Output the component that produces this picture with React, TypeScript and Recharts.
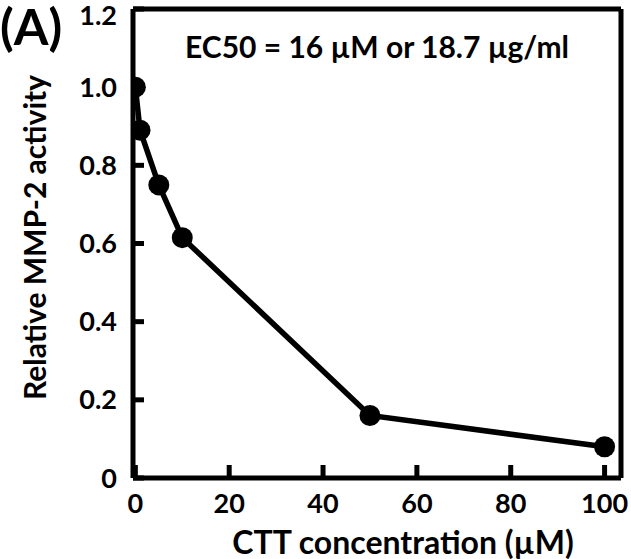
import React from "react";
import { LineChart, Line, XAxis, YAxis, ReferenceLine } from "recharts";

const concentrations = [0, 1, 5, 10, 50, 100];
const activity = [1.0, 0.89, 0.75, 0.615, 0.16, 0.08];
const xTicks = [0, 20, 40, 60, 80, 100];
const yTicks = [0, 0.2, 0.4, 0.6, 0.8, 1.0, 1.2];
const yTickLabels = ["0", "0.2", "0.4", "0.6", "0.8", "1.0", "1.2"];
const xDomain = [-0.5, 103.5];
const yDomain = [0, 1.2];

const data = concentrations.map((c, i) => ({ c, v: activity[i] }));

const FONT = "Lato, 'Open Sans', sans-serif";
const tickStyle = { fontFamily: FONT, fontWeight: 700, fontSize: 27, fill: "#000" };
const frameLine = { stroke: "#000", strokeWidth: 5 };

const yFmt = (v: number) => {
  const idx = yTicks.indexOf(v);
  return idx >= 0 ? yTickLabels[idx] : String(v);
};

const YLabel = (props: any) => {
  const vb = props.viewBox || { x: 0, y: 0, width: 0, height: 0 };
  const cx = vb.x + 35;
  const cy = vb.y + vb.height / 2 - 6;
  return (
    <text x={cx} y={cy} transform={`rotate(-90, ${cx}, ${cy})`} textAnchor="middle" dy="0.36em" fontFamily={FONT} fontWeight={700} fontSize={30} fill="#000">
      Relative MMP-2 activity
    </text>
  );
};

const XLabel = (props: any) => {
  const vb = props.viewBox || { x: 0, y: 0, width: 0, height: 0 };
  const cx = vb.x + vb.width / 2 + 26;
  return (
    <text x={cx} y={vb.y + 76} textAnchor="middle" fontFamily={FONT} fontWeight={700} fontSize={32} fill="#000">
      CTT concentration (µM)
    </text>
  );
};

const TopLabel = (props: any) => {
  const vb = props.viewBox || { x: 0, y: 0, width: 0, height: 0 };
  const cx = vb.x + (vb.width || 0) / 2;
  return (
    <text x={cx} y={vb.y + 49} textAnchor="middle" fontFamily={FONT} fontWeight={700} fontSize={30} fill="#000">
      EC50 = 16 µM or 18.7 µg/ml
    </text>
  );
};

export default function App() {
  return (
    <div style={{ position: "absolute", left: 0, top: 0, width: 631, height: 559, background: "#fff" }}>
      <LineChart width={631} height={559} data={data} margin={{ top: 9, right: 10, bottom: 0, left: 0 }}>
        <XAxis
          dataKey="c"
          type="number"
          domain={xDomain}
          ticks={xTicks}
          allowDataOverflow
          height={81}
          tickSize={-13}
          tickMargin={29}
          tick={tickStyle}
          tickLine={frameLine}
          axisLine={frameLine}
          label={<XLabel />}
        />
        <YAxis
          type="number"
          domain={yDomain}
          ticks={yTicks}
          allowDataOverflow
          width={133}
          tickSize={-11}
          tickMargin={27}
          tick={tickStyle}
          tickFormatter={yFmt}
          tickLine={frameLine}
          axisLine={frameLine}
          label={<YLabel />}
        />
        <ReferenceLine y={yDomain[1]} stroke="#000" strokeWidth={5} label={<TopLabel />} />
        <ReferenceLine x={xDomain[1]} stroke="#000" strokeWidth={5} />
        <Line
          dataKey="v"
          stroke="#000"
          strokeWidth={5.5}
          dot={{ r: 10.5, fill: "#000", stroke: "none" }}
          isAnimationActive={false}
        />
      </LineChart>
      <div
        style={{
          position: "absolute",
          left: 0,
          top: -4,
          fontFamily: FONT,
          fontWeight: 700,
          fontSize: 50,
          lineHeight: "60px",
          color: "#000",
        }}
      >
        (A)
      </div>
    </div>
  );
}
